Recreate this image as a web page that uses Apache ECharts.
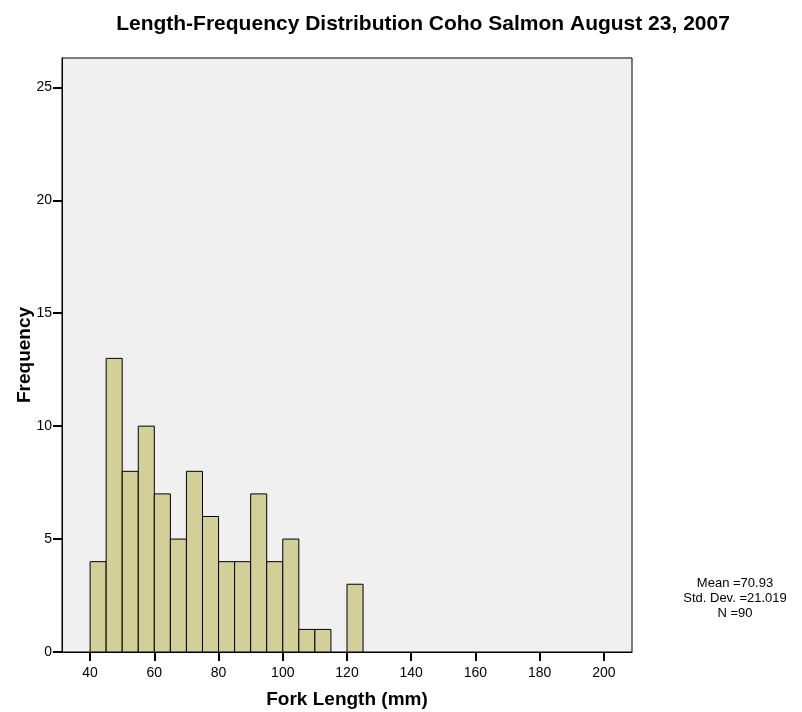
<!DOCTYPE html>
<html>
<head>
<meta charset="utf-8">
<script src="https://cdn.jsdelivr.net/npm/echarts@6/dist/echarts.min.js"></script>
<style>
html, body { margin: 0; padding: 0; background: #fff; }
#chart { width: 802px; height: 712px; }
</style>
</head>
<body>
<div id="chart"></div>
<script>
// histogram bins (fork length, mm), width 5
const binStarts = [40, 45, 50, 55, 60, 65, 70, 75, 80, 85, 90, 95, 100, 105, 110, 115, 120]
const counts = [4, 13, 8, 10, 7, 5, 8, 6, 4, 4, 7, 4, 5, 1, 1, 0, 3]
const binWidth = 5
const xTicks = [40, 60, 80, 100, 120, 140, 160, 180, 200]
const statsLines = ['Mean =70.93', 'Std. Dev. =21.019', 'N =90']

const chart = echarts.init(document.getElementById('chart'))

const font = 'Liberation Sans, Arial, sans-serif'

const option = {
  backgroundColor: '#fff',
  animation: false,
  title: {
    text: 'Length-Frequency Distribution Coho Salmon August 23, 2007',
    left: 418,
    top: 9,
    textAlign: 'center',
    textStyle: { fontFamily: font, fontSize: 21, fontWeight: 'bold', color: '#000' }
  },
  graphic: [{
    type: 'text',
    x: 735,
    y: 576,
    style: {
      text: statsLines.join('\n'),
      font: '13px ' + font,
      lineHeight: 15,
      fill: '#000',
      align: 'center',
      verticalAlign: 'top'
    }
  }],
  grid: {
    left: 62,
    right: 170,
    top: 58,
    bottom: 60,
    outerBoundsMode: 'none',
    show: true,
    backgroundColor: '#f0f0f0',
    borderColor: '#000',
    borderWidth: 1
  },
  xAxis: {
    type: 'value',
    min: 31.25,
    max: 208.75,
    name: 'Fork Length (mm)',
    nameLocation: 'middle',
    nameGap: 38,
    nameMoveOverlap: false,
    nameTextStyle: { fontFamily: font, fontSize: 19, fontWeight: 'bold', color: '#000' },
    axisLine: { show: true, lineStyle: { color: '#000', width: 1 } },
    axisTick: { show: true, customValues: xTicks, length: 9, lineStyle: { color: '#000', width: 2 } },
    axisLabel: { customValues: xTicks, fontFamily: font, fontSize: 14, color: '#000', margin: 14 },
    splitLine: { show: false }
  },
  yAxis: {
    type: 'value',
    min: 0,
    max: 26.3,
    interval: 5,
    name: 'Frequency',
    nameLocation: 'middle',
    nameGap: 28,
    nameMoveOverlap: false,
    nameTextStyle: { fontFamily: font, fontSize: 19, fontWeight: 'bold', color: '#000' },
    axisLine: { show: true, lineStyle: { color: '#000', width: 1 } },
    axisTick: { show: true, length: 9, lineStyle: { color: '#000', width: 2 } },
    axisLabel: {
      fontFamily: font, fontSize: 14, color: '#000', margin: 10,
      showMaxLabel: false
    },
    splitLine: { show: false }
  },
  series: [{
    type: 'custom',
    data: binStarts.map((s, i) => [s, s + binWidth, counts[i]]),
    renderItem: function (params, api) {
      const h = api.value(2)
      if (!h) return null
      const p0 = api.coord([api.value(0), 0])
      const p1 = api.coord([api.value(1), h])
      return {
        type: 'rect',
        shape: { x: p0[0], y: p1[1], width: p1[0] - p0[0], height: p0[1] - p1[1] },
        style: { fill: '#d3cf98', stroke: '#000', lineWidth: 1 }
      }
    },
    encode: { x: [0, 1], y: 2 }
  }]
}

chart.setOption(option)
</script>
</body>
</html>
